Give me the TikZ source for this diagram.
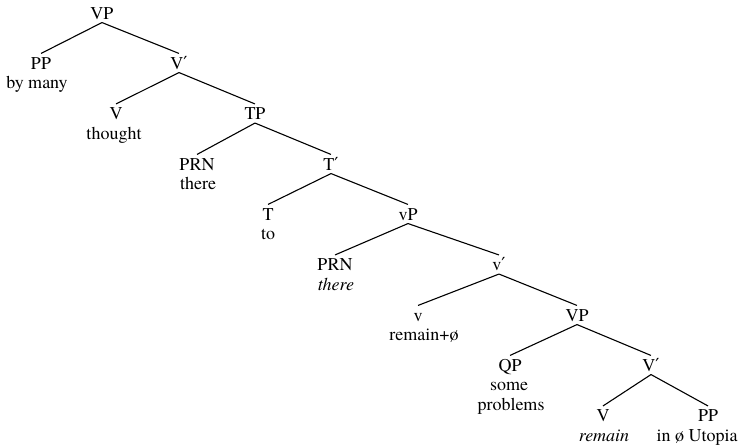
\documentclass[tikz,border=0pt]{standalone}
\usepackage{fontspec}
\setmainfont{TeX Gyre Termes}
\newfontfamily\primefont{DejaVu Serif}
\newcommand{\xbar}{{\primefont ′}}
\usepackage{tikz}

\begin{document}
\begin{tikzpicture}[x=1pt, y=-1pt, line width=1.1pt,
  font=\fontsize{18}{20}\selectfont,
  cat/.style={anchor=base, inner sep=3pt, text height=12pt, text depth=0pt},
  word/.style={anchor=base, inner sep=0pt}]
  \useasboundingbox (0,0) rectangle (744,445);
  \node[cat] (vp1) at (102,19) {VP};
  \node[cat] (pp1) at (41,69) {PP};            \node[word] (ppw1) at (37,88.5) {by many};
  \node[cat] (vb1) at (179,69) {V\xbar};
  \node[cat] (v1) at (116,119.5) {V};          \node[word] (vw1) at (114,139) {thought};
  \node[cat] (tp) at (255,119.5) {TP};
  \node[cat] (prn1) at (197,170) {PRN};        \node[word] (prnw1) at (198,189.5) {there};
  \node[cat] (tb) at (331,170) {T\xbar};
  \node[cat] (t) at (268,220) {T};             \node[word] (tw) at (268,239.5) {to};
  \node[cat] (vsp) at (408,220) {vP};
  \node[cat] (prn2) at (335,270.5) {PRN};      \node[word] (prnw2) at (336,290) {\itshape there};
  \node[cat] (vsb) at (499,270.5) {v\xbar};
  \node[cat] (vs) at (418,321) {v};            \node[word] (vsw) at (424,340.5) {remain+ø};
  \node[cat] (vp2) at (577,321) {VP};
  \node[cat] (qp) at (510,371) {QP};           \node[word] (qpw1) at (509,390.5) {some};
                                               \node[word] (qpw2) at (511,410) {problems};
  \node[cat] (vb2) at (651,371) {V\xbar};
  \node[cat] (v2) at (603,421.5) {V};          \node[word] (vw2) at (604,441) {\itshape remain};
  \node[cat] (pp2) at (708,421.5) {PP};        \node[word] (ppw2) at (697,441) {in ø Utopia};
  \draw (vp1.south) -- (pp1.north);  \draw (vp1.south) -- (vb1.north);
  \draw (vb1.south) -- (v1.north);   \draw (vb1.south) -- (tp.north);
  \draw (tp.south) -- (prn1.north);  \draw (tp.south) -- (tb.north);
  \draw (tb.south) -- (t.north);     \draw (tb.south) -- (vsp.north);
  \draw (vsp.south) -- (prn2.north); \draw (vsp.south) -- (vsb.north);
  \draw (vsb.south) -- (vs.north);   \draw (vsb.south) -- (vp2.north);
  \draw (vp2.south) -- (qp.north);   \draw (vp2.south) -- (vb2.north);
  \draw (vb2.south) -- (v2.north);   \draw (vb2.south) -- (pp2.north);
\end{tikzpicture}
\end{document}
